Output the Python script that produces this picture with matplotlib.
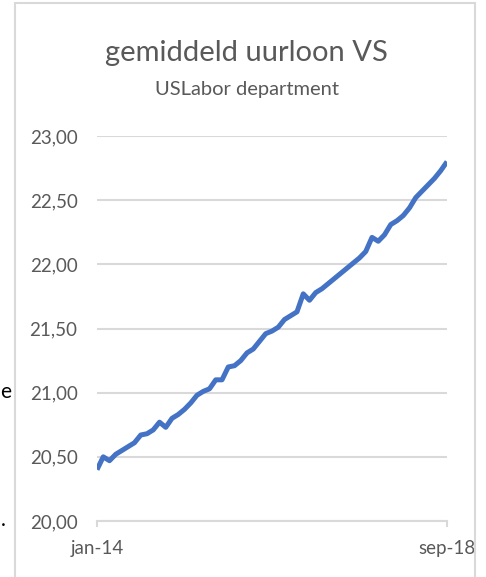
"""Gemiddeld uurloon VS, jan-14 t/m sep-18."""

import matplotlib
matplotlib.use("Agg")
import matplotlib.pyplot as plt
from matplotlib.patches import Rectangle
from matplotlib.ticker import FuncFormatter

plt.rcParams["font.family"] = ["Lato", "DejaVu Sans"]

# monthly values, jan-14 .. sep-18
months = list(range(57))
first_label = "jan-14"
last_label = "sep-18"
wage = [
    20.40, 20.50, 20.47, 20.52, 20.55, 20.58, 20.61, 20.67, 20.68, 20.71, 20.77, 20.73,
    20.80, 20.83, 20.87, 20.92, 20.98, 21.01, 21.03, 21.10, 21.10, 21.20, 21.21, 21.25,
    21.31, 21.34, 21.40, 21.46, 21.48, 21.51, 21.57, 21.60, 21.63, 21.77, 21.72, 21.78,
    21.81, 21.85, 21.89, 21.93, 21.97, 22.01, 22.05, 22.10, 22.21, 22.18, 22.23, 22.31,
    22.34, 22.38, 22.44, 22.52, 22.57, 22.62, 22.67, 22.73, 22.80,
]
y_ticks = [20.0, 20.5, 21.0, 21.5, 22.0, 22.5, 23.0]

W, H = 486, 577
grey = "#d9d9d9"
text_grey = "#595959"

fig = plt.figure(figsize=(W / 100, H / 100), dpi=100)

# chart area border (runs off the bottom of the picture)
fig.patches.append(Rectangle((15 / W, -0.1), 460 / W, 1.1 - 3 / H, transform=fig.transFigure,
                             fill=False, edgecolor=grey, linewidth=1.5))

ax = fig.add_axes([97 / W, 1 - 521 / H, 350 / W, 385 / H])
ax.plot(months, wage, color="#4472c4", linewidth=3.6, solid_capstyle="butt", zorder=3)

ax.set_xlim(months[0], months[-1])
ax.set_ylim(y_ticks[0], y_ticks[-1])
ax.set_yticks(y_ticks)
ax.yaxis.set_major_formatter(FuncFormatter(lambda v, _: f"{v:.2f}".replace(".", ",")))
ax.set_xticks([months[0], months[-1]], [first_label, last_label])

ax.grid(axis="y", color=grey, linewidth=1.5)
ax.set_axisbelow(True)
for side in ("top", "right", "left"):
    ax.spines[side].set_visible(False)
ax.spines["bottom"].set_color(grey)
ax.spines["bottom"].set_linewidth(1.5)
ax.tick_params(axis="y", length=0, pad=14, labelsize=13.5, labelcolor=text_grey)
ax.tick_params(axis="x", length=4, width=1.5, color=grey, pad=10, labelsize=13.5, labelcolor=text_grey)

fig.text(246 / W, 1 - 53 / H, "gemiddeld uurloon VS", ha="center", va="center",
         fontsize=21, color=text_grey)
fig.text(247 / W, 1 - 89 / H, "USLabor department", ha="center", va="center",
         fontsize=14.5, color=text_grey)

# text from the sheet behind the chart, at its left edge
fig.text(11 / W, 1 - 392 / H, "e", ha="right", va="center", fontsize=15, color="black")
fig.text(6 / W, 1 - 520 / H, ".", ha="right", va="center", fontsize=15, color="black")

fig.savefig("out.png", dpi=100)
